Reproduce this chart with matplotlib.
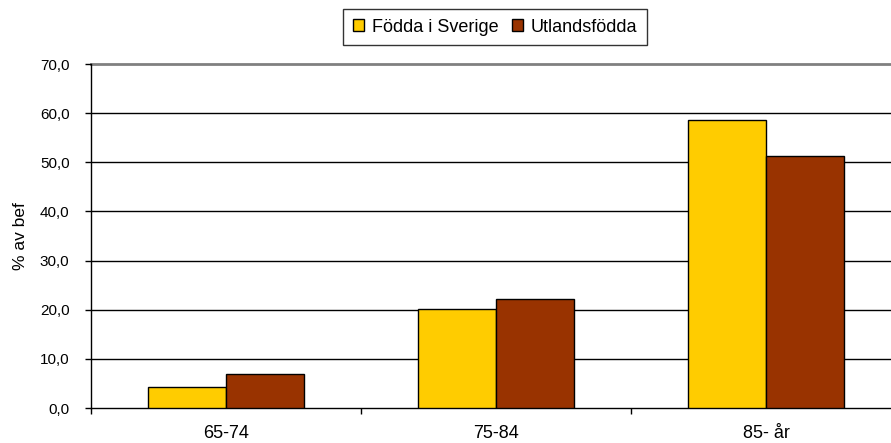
import matplotlib.pyplot as plt
from matplotlib.ticker import FixedLocator, FuncFormatter

plt.rcParams['font.family'] = ['Liberation Sans', 'DejaVu Sans']

# data
categories = ['65-74', '75-84', '85- år']
fodda_sverige = [4.3, 20.1, 58.6]
utlandsfodda = [6.9, 22.2, 51.3]

fig = plt.figure(figsize=(8.91, 4.43), dpi=100)
ax = fig.add_axes([91 / 891, 35 / 443, 1 - 91 / 891, 344 / 443])

x = list(range(len(categories)))
w = 0.289
ax.bar([i - w / 2 for i in x], fodda_sverige, width=w, color='#FFCC00',
       edgecolor='black', linewidth=1, label='Födda i Sverige', zorder=3)
ax.bar([i + w / 2 for i in x], utlandsfodda, width=w, color='#993300',
       edgecolor='black', linewidth=1, label='Utlandsfödda', zorder=3)

ax.set_ylim(0, 70)
ax.set_xlim(-0.5, 2.5 - 10 / 270)
ax.set_yticks(range(0, 71, 10))
ax.yaxis.set_major_formatter(FuncFormatter(lambda v, p: f'{v:.1f}'.replace('.', ',')))
ax.set_xticks(x)
ax.set_xticklabels(categories)
ax.xaxis.set_minor_locator(FixedLocator([-0.5, 0.5, 1.5]))
ax.tick_params(axis='x', which='major', length=0, labelsize=13, pad=12)
ax.tick_params(axis='x', which='minor', length=4.5, width=1, direction='out')
ax.tick_params(axis='y', length=4.5, width=1, direction='out', labelsize=11, pad=11)

# gridlines (top one grey like the plot-area border)
for v in range(10, 70, 10):
    ax.axhline(v, color='black', linewidth=1, zorder=0)
ax.axhline(70, color='#808080', linewidth=2, zorder=1, clip_on=False)
for s in ['top', 'right']:
    ax.spines[s].set_visible(False)
ax.spines['left'].set_linewidth(1)
ax.spines['bottom'].set_linewidth(1)

ax.set_ylabel('% av bef', fontsize=12.5)
ax.yaxis.set_label_coords((28 - 91) / 800, 0.5)

leg = fig.legend(loc='center', bbox_to_anchor=(495 / 891, 1 - 27 / 443), ncol=2,
                 fontsize=13, frameon=True, fancybox=False, edgecolor='black',
                 handlelength=0.6, handleheight=0.6, handletextpad=0.45,
                 columnspacing=0.75, borderpad=0.55)
leg.get_frame().set_linewidth(1)

fig.savefig('out.png', dpi=100)
